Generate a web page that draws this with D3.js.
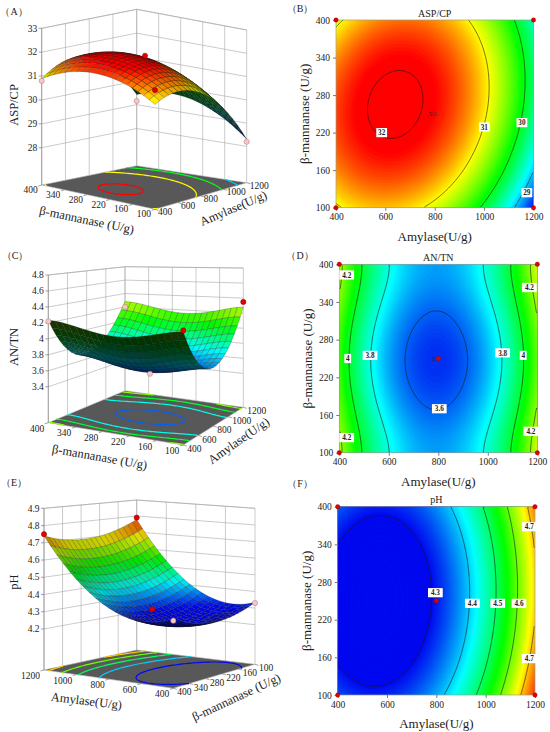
<!DOCTYPE html>
<html><head><meta charset="utf-8">
<script src="https://cdn.jsdelivr.net/npm/d3@7"></script>
<style>
body{margin:0;background:#fff}
svg{display:block}
text{font-family:"Liberation Serif","Times New Roman",serif;fill:#222}
</style>
</head><body>
<svg id="c" width="550" height="732"></svg>
<script>
// ================= DATA =================
const amylaseRange = [400, 1200];
const mannanaseRange = [100, 400];
const amylaseTicks = [400, 600, 800, 1000, 1200];
const mannanaseTicks = [100, 160, 220, 280, 340, 400];

// Response-surface models (coded a=(Amylase-800)/400, b=(β-mannanase-250)/150)
// y = m + ka(a-a0)^2 + kb(b-b0)^2 + kq(b-b0)^4 + c(a-a0)(b-b0);  arrays: [m, a0, b0, ka, kb, kq, c]
const aspcpModel = [32.096, -0.4, 0.1, -1.24, -0.75, 0, 0.29];
const antnModel  = [3.541, -0.02, -0.02, 0.59, 0.247, -0.121, 0];
const phModel    = [4.2466, -0.6, 0, 0.175, 0.065, 0, -0.012];

const aspcpColorDomain = [28.3, 31.9];
const antnColorDomain  = [3.5, 4.6];
const phColorDomain    = [4.3, 4.8];

const aspcpLevels = [29, 30, 31, 32];
const antnLevels  = [3.6, 3.8, 4.0, 4.2];
const phLevels    = [4.3, 4.4, 4.5, 4.6, 4.7];

const aspcpZTicks = [28, 29, 30, 31, 32, 33];
const antnZTicks  = [3.4, 3.6, 3.8, 4, 4.2, 4.4, 4.6, 4.8];
const phZTicks    = [4.2, 4.3, 4.4, 4.5, 4.6, 4.7, 4.8, 4.9];

// contour labels: [level, amylase, β-mannanase]
const aspcpLabels = [[32, 585, 220], [31, 1001, 229], [30, 1153, 236], [29, 1173, 124]];
const antnLabels  = [[4.2, 430, 383], [4.2, 430, 124], [4, 434, 250], [3.8, 524, 255], [3.6, 804, 170],
                     [3.8, 1060, 259], [4, 1143, 255], [4.2, 1168, 363], [4.2, 1174, 134]];
const phLabels    = [[4.3, 796, 263], [4.4, 946, 246], [4.5, 1049, 246], [4.6, 1135, 246], [4.7, 1177, 368], [4.7, 1177, 158]];

// design points: [amylase, β-mannanase, observed response]
const aspcpPoints = [[400, 400, 30.8], [800, 250, 31.95], [400, 100, 31.55], [1200, 400, 29.15], [1200, 100, 28.2]];
const antnPoints  = [[400, 400, 4.22], [1200, 400, 4.2], [1200, 100, 4.35], [800, 250, 3.5], [400, 100, 4.25]];
const phPoints    = [[1200, 400, 4.75], [1200, 100, 4.79], [400, 100, 4.33], [800, 250, 4.31], [400, 400, 4.34]];
const centerReplicates = 5;

// ================= HELPERS =================
const svg = d3.select("#c");
const aS = d3.scaleLinear().domain(amylaseRange).range([-1, 1]);
const bS = d3.scaleLinear().domain(mannanaseRange).range([-1, 1]);

function modelFn(coef) {
  const [m, a0, b0, ka, kb, kq, c] = coef;
  return (amy, man) => {
    const da = aS(amy) - a0, db = bS(man) - b0;
    return m + ka * da * da + kb * db * db + kq * db * db * db * db + c * da * db;
  };
}
function colorScale(dom) {
  const lo = dom[0], hi = dom[1], st = (hi - lo) / 4;
  return d3.scaleLinear().domain([lo, lo + st, lo + 2 * st, lo + 3 * st, hi])
    .range(["#0008f0", "#00ffff", "#00ff00", "#ffff00", "#ff0000"]).clamp(true);
}
const fmt = v => String(+(+v).toFixed(2));

function gridValues(f, N, M) {
  const vals = new Float64Array(N * M);
  for (let j = 0; j < M; j++) for (let i = 0; i < N; i++) {
    const amy = amylaseRange[0] + (i + 0.5) / N * (amylaseRange[1] - amylaseRange[0]);
    const man = mannanaseRange[0] + (j + 0.5) / M * (mannanaseRange[1] - mannanaseRange[0]);
    vals[j * N + i] = f(amy, man);
  }
  return vals;
}
function gridToData(p, N, M) {
  return [amylaseRange[0] + p[0] / N * (amylaseRange[1] - amylaseRange[0]),
          mannanaseRange[0] + p[1] / M * (mannanaseRange[1] - mannanaseRange[0])];
}
function linePath(mp, toScreen, N, M) {
  let d = "";
  const onB = p => p[0] <= 0 || p[0] >= N || p[1] <= 0 || p[1] >= M;
  mp.coordinates.forEach(poly => poly.forEach(ring => {
    let pen = false;
    for (let k = 1; k < ring.length; k++) {
      const p0 = ring[k - 1], p1 = ring[k];
      if (onB(p0) && onB(p1)) { pen = false; continue; }
      const s0 = toScreen(p0), s1 = toScreen(p1);
      if (!pen) { d += "M" + s0[0].toFixed(2) + "," + s0[1].toFixed(2); pen = true; }
      d += "L" + s1[0].toFixed(2) + "," + s1[1].toFixed(2);
    }
  }));
  return d;
}

// ================= CONTOUR PANELS =================
function contourPanel(o) {
  const g = svg.append("g");
  const x = d3.scaleLinear().domain(amylaseRange).range([o.x0, o.x0 + o.w]);
  const y = d3.scaleLinear().domain(mannanaseRange).range([o.y0 + o.h, o.y0]);
  const N = 120, M = 120;
  const vals = gridValues(o.f, N, M);
  const ext = d3.extent(vals);
  const color = colorScale(o.colorDomain);
  const clipId = "clip" + o.id;
  g.append("clipPath").attr("id", clipId).append("rect")
    .attr("x", o.x0).attr("y", o.y0).attr("width", o.w).attr("height", o.h);
  const gc = g.append("g").attr("clip-path", `url(#${clipId})`);
  const proj = d3.geoTransform({ point(px, py) { const d = gridToData([px, py], N, M); this.stream.point(x(d[0]), y(d[1])); } });
  const path = d3.geoPath(proj);
  const nb = 110, step = (ext[1] - ext[0]) / nb;
  const thr = d3.range(nb).map(k => ext[0] + k * step);
  gc.append("rect").attr("x", o.x0).attr("y", o.y0).attr("width", o.w).attr("height", o.h).attr("fill", color(ext[0]));
  d3.contours().size([N, M]).thresholds(thr)(vals).forEach(c => {
    const col = color(c.value + step / 2);
    gc.append("path").attr("d", path(c)).attr("fill", col).attr("stroke", col).attr("stroke-width", 0.4);
  });
  const toS = p => { const d = gridToData(p, N, M); return [x(d[0]), y(d[1])]; };
  o.levels.forEach(lv => {
    const mp = d3.contours().size([N, M]).contour(vals, lv);
    gc.append("path").attr("d", linePath(mp, toS, N, M)).attr("fill", "none")
      .attr("stroke", "#1a1a1a").attr("stroke-width", 0.6);
  });
  g.append("rect").attr("x", o.x0).attr("y", o.y0).attr("width", o.w).attr("height", o.h)
    .attr("fill", "none").attr("stroke", "#9a9a9a").attr("stroke-width", 0.7);
  const ax = d3.axisBottom(x).tickValues(amylaseTicks).tickFormat(d3.format("d")).tickSize(3).tickPadding(3);
  const gx = g.append("g").attr("transform", `translate(0,${o.y0 + o.h})`).call(ax);
  const ay = d3.axisLeft(y).tickValues(mannanaseTicks).tickFormat(d3.format("d")).tickSize(3).tickPadding(3);
  const gy = g.append("g").attr("transform", `translate(${o.x0},0)`).call(ay);
  [gx, gy].forEach(a => {
    a.select(".domain").remove();
    a.selectAll("line").attr("stroke", "#777");
    a.selectAll("text").attr("font-size", 9.5).attr("font-family", '"Liberation Serif",serif').attr("fill", "#222");
  });
  g.append("text").attr("x", o.x0 + o.w / 2).attr("y", o.y0 + o.h + 33).attr("text-anchor", "middle")
    .attr("font-size", 13).text("Amylase(U/g)");
  g.append("text").attr("transform", `translate(${o.x0 - 27},${o.y0 + o.h / 2}) rotate(-90)`)
    .attr("text-anchor", "middle").attr("font-size", 13).text("β-mannanase (U/g)");
  g.append("text").attr("x", o.x0 + o.w / 2).attr("y", o.y0 - 3.5).attr("text-anchor", "middle")
    .attr("font-size", 10).text(o.title);
  g.append("text").attr("x", o.letterX).attr("y", o.letterY).attr("text-anchor", "middle")
    .attr("font-size", 10).text(o.letter);
  o.labels.forEach(([lv, amy, man]) => {
    const t = fmt(lv), tw = t.length * 3.9 + 3;
    const lg = g.append("g").attr("transform", `translate(${x(amy)},${y(man)})`);
    lg.append("rect").attr("x", -tw / 2).attr("y", -4.6).attr("width", tw).attr("height", 9.2).attr("fill", "#fff");
    lg.append("text").attr("text-anchor", "middle").attr("y", 2.7).attr("font-size", 7.2)
      .attr("font-weight", "bold").text(t);
  });
  o.points.forEach(([amy, man]) => {
    const isCenter = amy === 800 && man === 250;
    if (isCenter && o.openCenter) {
      g.append("circle").attr("cx", x(amy)).attr("cy", y(man)).attr("r", 2).attr("fill", "none").attr("stroke", "#333").attr("stroke-width", 0.6);
    } else {
      g.append("circle").attr("cx", x(amy)).attr("cy", y(man)).attr("r", 2.2).attr("fill", "#e00000").attr("stroke", "#900").attr("stroke-width", 0.4);
    }
    if (isCenter) g.append("text").attr("x", x(amy) - 3).attr("y", y(man) + 2.5).attr("text-anchor", "end")
      .attr("font-size", 7).text(centerReplicates);
  });
}

// ================= 3D SURFACE PANELS =================
function surfacePanel(o) {
  const g = svg.append("g");
  const C = o.corners, F = C.F, R = C.R, L = C.L, B = C.B;
  const zs = d3.scaleLinear().domain([o.zf, o.zt]).range([0, 1]);
  function P(u, v, z) {
    const s = (u + 1) / 2, t = (v + 1) / 2;
    const wF = (1 - s) * (1 - t), wR = s * (1 - t), wL = (1 - s) * t, wB = s * t;
    const x = wF * F[0] + wR * R[0] + wL * L[0] + wB * B[0];
    const yf = wF * F[1] + wR * R[1] + wL * L[1] + wB * B[1];
    const yt = wF * F[2] + wR * R[2] + wL * L[2] + wB * B[2];
    return [x, yf + (yt - yf) * zs(z)];
  }
  const eu = [((R[0] - F[0]) + (B[0] - L[0])) / 4, ((R[1] - F[1]) + (B[1] - L[1])) / 4];
  const ev = [((L[0] - F[0]) + (B[0] - R[0])) / 4, ((L[1] - F[1]) + (B[1] - R[1])) / 4];
  const kz = d3.mean([F, R, L, B], c => c[1] - c[2]) / (o.zt - o.zf);
  const p = -eu[1] / eu[0], q = ev[1] / ev[0];
  const sphi = Math.sqrt(p * q), cphi = Math.sqrt(1 - sphi * sphi);
  const th = Math.atan(Math.sqrt(p / q));
  const Su = eu[0] / Math.cos(th), Sv = -ev[0] / Math.sin(th), Sz = kz / cphi;
  const view = [-Math.sin(th) * cphi, -Math.cos(th) * cphi, sphi];
  const W = (u, v, z) => [Su * u, Sv * v, Sz * (z - o.zf)];
  const depth = w => -(w[0] * view[0] + w[1] * view[1] + w[2] * view[2]);
  let lt = [view[0] * 0.7 - 0.15, view[1] * 0.7 + 0.1, 1];
  const ln = Math.hypot(...lt); lt = lt.map(d => d / ln);
  const color = colorScale(o.colorDomain);
  const line = d3.line();
  const gridStroke = "#a8a8a8";

  g.append("path").attr("d", line([P(-1, -1, o.zf), P(1, -1, o.zf), P(1, 1, o.zf), P(-1, 1, o.zf)]) + "Z")
    .attr("fill", "#585858").attr("stroke", "#bbb").attr("stroke-width", 0.6);
  const wallTop = o.zt;
  o.uTicks.forEach(t => {
    const u = o.uTickPos(t);
    g.append("path").attr("d", line([P(u, 1, o.zf), P(u, 1, wallTop)])).attr("stroke", gridStroke).attr("stroke-width", 0.6);
  });
  o.vTicks.forEach(t => {
    const v = o.vTickPos(t);
    g.append("path").attr("d", line([P(1, v, o.zf), P(1, v, wallTop)])).attr("stroke", gridStroke).attr("stroke-width", 0.6);
  });
  o.zTicks.forEach(z => {
    g.append("path").attr("d", line([P(-1, 1, z), P(1, 1, z), P(1, -1, z)])).attr("fill", "none")
      .attr("stroke", gridStroke).attr("stroke-width", 0.6);
  });
  g.append("path").attr("d", line([P(-1, 1, wallTop), P(1, 1, wallTop), P(1, -1, wallTop)])).attr("fill", "none")
    .attr("stroke", gridStroke).attr("stroke-width", 0.6);

  const N = 80, M = 80;
  const vals = gridValues(o.f, N, M);
  const toFloor = pp => { const d = gridToData(pp, N, M); return P(o.uOf(d[0], d[1]), o.vOf(d[0], d[1]), o.zf); };
  o.levels.forEach(lv => {
    const mp = d3.contours().size([N, M]).contour(vals, lv);
    g.append("path").attr("d", linePath(mp, toFloor, N, M)).attr("fill", "none")
      .attr("stroke", color(lv)).attr("stroke-width", 1.2);
  });

  g.append("path").attr("d", line([P(-1, 1, o.zf), P(-1, 1, wallTop)])).attr("stroke", "#888").attr("stroke-width", 0.7);
  o.zTicks.forEach(z => {
    const s = P(-1, 1, z);
    g.append("line").attr("x1", s[0] - 3).attr("x2", s[0]).attr("y1", s[1]).attr("y2", s[1]).attr("stroke", "#666").attr("stroke-width", 0.6);
    g.append("text").attr("x", s[0] - 4.5).attr("y", s[1] + 3.2).attr("text-anchor", "end").attr("font-size", 9.5).text(fmt(z));
  });
  g.append("text").attr("transform", `translate(${o.zTitle[0]},${o.zTitle[1]}) rotate(-90)`)
    .attr("text-anchor", "middle").attr("font-size", 12.5).text(o.zLabel);

  o.vTicks.forEach(t => {
    const s = P(-1, o.vTickPos(t), o.zf);
    g.append("line").attr("x1", s[0]).attr("y1", s[1]).attr("x2", s[0] - 3.5).attr("y2", s[1] + 1).attr("stroke", "#666").attr("stroke-width", 0.6);
    g.append("text").attr("x", s[0] + o.vLabOff[0]).attr("y", s[1] + o.vLabOff[1]).attr("text-anchor", "end")
      .attr("font-size", 9.5).text(t);
  });
  o.uTicks.forEach(t => {
    const s = P(o.uTickPos(t), -1, o.zf);
    g.append("line").attr("x1", s[0]).attr("y1", s[1]).attr("x2", s[0] + 3.5).attr("y2", s[1] + 1).attr("stroke", "#666").attr("stroke-width", 0.6);
    g.append("text").attr("x", s[0] + o.uLabOff[0]).attr("y", s[1] + o.uLabOff[1]).attr("text-anchor", "start")
      .attr("font-size", 9.5).text(t);
  });
  g.append("text").attr("transform", `translate(${o.vTitle[0]},${o.vTitle[1]}) rotate(${o.vTitle[2]})`)
    .attr("text-anchor", "middle").attr("font-size", 12.5).text(o.vLabel);
  g.append("text").attr("transform", `translate(${o.uTitle[0]},${o.uTitle[1]}) rotate(${o.uTitle[2]})`)
    .attr("text-anchor", "middle").attr("font-size", 12.5).text(o.uLabel);
  g.append("text").attr("x", o.letterPos[0]).attr("y", o.letterPos[1]).attr("text-anchor", "middle")
    .attr("font-size", 10).text(o.letter);

  const n = 20, quads = [];
  const aStep = (amylaseRange[1] - amylaseRange[0]) / n, mStep = (mannanaseRange[1] - mannanaseRange[0]) / n;
  for (let i = 0; i < n; i++) for (let j = 0; j < n; j++) {
    const pts = [[i, j], [i + 1, j], [i + 1, j + 1], [i, j + 1]].map(([ii, jj]) => {
      const amy = amylaseRange[0] + ii * aStep, man = mannanaseRange[0] + jj * mStep;
      const z = o.f(amy, man), u = o.uOf(amy, man), v = o.vOf(amy, man);
      return { s: P(u, v, z), w: W(u, v, z), z };
    });
    const d1 = pts[2].w.map((c, k) => c - pts[0].w[k]), d2 = pts[3].w.map((c, k) => c - pts[1].w[k]);
    let nrm = [d1[1] * d2[2] - d1[2] * d2[1], d1[2] * d2[0] - d1[0] * d2[2], d1[0] * d2[1] - d1[1] * d2[0]];
    if (nrm[2] < 0) nrm = nrm.map(c => -c);
    const nl = Math.hypot(...nrm); nrm = nrm.map(c => c / nl);
    const facing = nrm[0] * view[0] + nrm[1] * view[1] + nrm[2] * view[2];
    const nd = Math.abs(nrm[0] * lt[0] + nrm[1] * lt[1] + nrm[2] * lt[2]);
    let shade = 0.3 + 0.72 * nd;
    if (facing < 0) shade *= 0.62;
    const zc = d3.mean(pts, d => d.z);
    const cen = pts.reduce((a, d) => [a[0] + d.w[0] / 4, a[1] + d.w[1] / 4, a[2] + d.w[2] / 4], [0, 0, 0]);
    const base = d3.rgb(color(zc));
    const col = d3.rgb(Math.min(255, base.r * shade), Math.min(255, base.g * shade), Math.min(255, base.b * shade));
    quads.push({ d: line(pts.map(d => d.s)) + "Z", depth: depth(cen), col: col.toString() });
  }
  quads.sort((a, b) => b.depth - a.depth);
  g.append("g").selectAll("path").data(quads).join("path")
    .attr("d", d => d.d).attr("fill", d => d.col)
    .attr("stroke", "rgba(20,20,20,0.55)").attr("stroke-width", 0.4).attr("stroke-linejoin", "round");

  o.points.forEach(([amy, man, val]) => {
    const s = P(o.uOf(amy, man), o.vOf(amy, man), val);
    const above = val >= o.f(amy, man);
    g.append("circle").attr("cx", s[0]).attr("cy", s[1]).attr("r", 2.6)
      .attr("fill", above ? "#e00000" : "#f6c9c9").attr("stroke", above ? "#8a0000" : "#b07070").attr("stroke-width", 0.5);
  });
}

const fA = modelFn(aspcpModel), fC = modelFn(antnModel), fE = modelFn(phModel);

surfacePanel({
  f: fA, colorDomain: aspcpColorDomain, levels: aspcpLevels, zTicks: aspcpZTicks, points: aspcpPoints,
  corners: { F: [155, 209.3, 56.3], R: [246.7, 182.7, 30], L: [41.7, 185, 28.3], B: [136.7, 165.7, 9.3] },
  zf: 26.44, zt: 33,
  uOf: (amy, man) => aS(amy), vOf: (amy, man) => bS(man),
  uTicks: amylaseTicks, uTickPos: t => aS(t), vTicks: mannanaseTicks, vTickPos: t => bS(t),
  vLabOff: [-4, 8], uLabOff: [3, 6],
  vLabel: "β-mannanase (U/g)", uLabel: "Amylase(U/g)", zLabel: "ASP/CP",
  vTitle: [86, 224, 11.7], uTitle: [235, 212, -23], zTitle: [18, 105],
  letter: "（A）", letterPos: [14, 15]
});
surfacePanel({
  f: fC, colorDomain: antnColorDomain, levels: antnLevels, zTicks: antnZTicks, points: antnPoints,
  corners: { F: [183.3, 445, 282], R: [243.3, 407.3, 268], L: [48.3, 422.7, 275], B: [125, 390.7, 266.7] },
  zf: 2.95, zt: 4.8,
  uOf: (amy, man) => aS(amy), vOf: (amy, man) => bS(man),
  uTicks: amylaseTicks, uTickPos: t => aS(t), vTicks: mannanaseTicks, vTickPos: t => bS(t),
  vLabOff: [-4, 9], uLabOff: [4, 7],
  vLabel: "β-mannanase (U/g)", uLabel: "Amylase(U/g)", zLabel: "AN/TN",
  vTitle: [99, 461, 10], uTitle: [241, 444, -35], zTitle: [18, 347],
  letter: "（C）", letterPos: [15, 259]
});
surfacePanel({
  f: fE, colorDomain: phColorDomain, levels: phLevels, zTicks: phZTicks, points: phPoints,
  corners: { F: [173.3, 688.3, 520.6], R: [255, 664.3, 508.3], L: [44, 670, 508.3], B: [136.7, 650, 500] },
  zf: 3.962, zt: 4.9,
  uOf: (amy, man) => -bS(man), vOf: (amy, man) => aS(amy),
  uTicks: mannanaseTicks.slice().reverse(), uTickPos: t => -bS(t), vTicks: amylaseTicks.slice().reverse(), vTickPos: t => aS(t),
  vLabOff: [-4, 9], uLabOff: [4, 7],
  vLabel: "Amylase(U/g)", uLabel: "β-mannanase (U/g)", zLabel: "pH",
  vTitle: [86, 705, 7], uTitle: [238, 701, -25], zTitle: [18, 582],
  letter: "（E）", letterPos: [14, 486]
});

contourPanel({ id: "B", f: fA, colorDomain: aspcpColorDomain, levels: aspcpLevels, labels: aspcpLabels, points: aspcpPoints,
  x0: 336, y0: 20, w: 197.5, h: 187.7, title: "ASP/CP", letter: "（B）", letterX: 300, letterY: 12, openCenter: true });
contourPanel({ id: "D", f: fC, colorDomain: antnColorDomain, levels: antnLevels, labels: antnLabels, points: antnPoints,
  x0: 339.3, y0: 264.3, w: 198, h: 188.4, title: "AN/TN", letter: "（D）", letterX: 300, letterY: 259, openCenter: false });
contourPanel({ id: "F", f: fE, colorDomain: phColorDomain, levels: phLevels, labels: phLabels, points: phPoints,
  x0: 337.7, y0: 506.7, w: 197.3, h: 188.3, title: "pH", letter: "（F）", letterX: 300, letterY: 487, openCenter: false });
</script>
</body></html>
